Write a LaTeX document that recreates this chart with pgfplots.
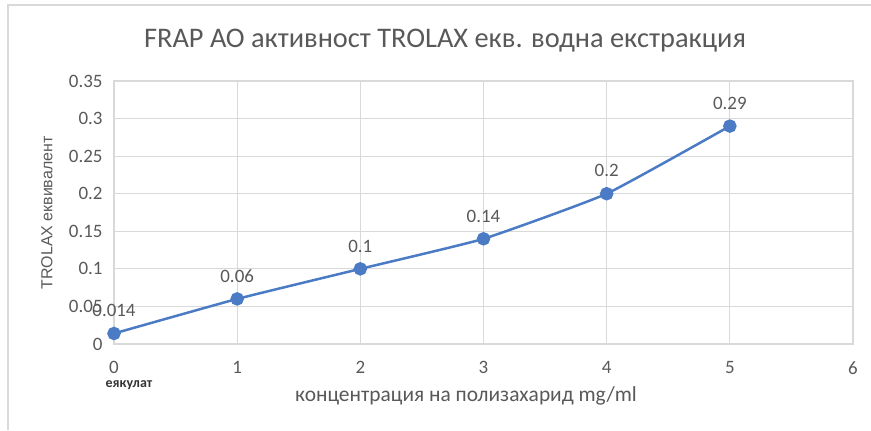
\documentclass[border=0pt]{standalone}
\usepackage{fontspec}
\setmainfont{Carlito}
\newfontfamily\arialfont{Liberation Sans}
\usepackage{pgfplots}
\pgfplotsset{compat=1.18}
\definecolor{txtgray}{HTML}{595959}
\definecolor{gridgray}{HTML}{D9D9D9}
\definecolor{frame}{HTML}{D9D9D9}
\definecolor{series}{HTML}{4A7BC4}

\pgfplotstableread{
x y lbl
0 0.014 0.014
1 0.06 0.06
2 0.1 0.1
3 0.14 0.14
4 0.2 0.2
5 0.29 0.29
}\frapdata

\begin{document}
\begin{tikzpicture}[x=1bp,y=1bp]
\path[use as bounding box] (0,0) rectangle (871,430);
\draw[frame, line width=1.5bp] (8,0) -- (8,425) -- (871,425);
\begin{axis}[
  at={(114bp,86bp)}, anchor=south west,
  scale only axis, width=739bp, height=263bp,
  xmin=0, xmax=6, ymin=0, ymax=0.35,
  xtick={0,1,2,3,4,5,6},
  ytick={0,0.05,0.1,0.15,0.2,0.25,0.3,0.35},
  yticklabels={0,0.05,0.1,0.15,0.2,0.25,0.3,0.35},
  grid=major,
  grid style={gridgray, line width=1.2bp},
  axis line style={gridgray, line width=1.2bp},
  major tick length=0pt,
  tick label style={font=\fontsize{19}{19}\selectfont, text=txtgray},
  /pgf/number format/assume math mode=true,
  xticklabel style={yshift=-14bp},
  yticklabel style={xshift=-8bp},
  clip=false,
]
\addplot[series, line width=2.5bp, smooth, tension=0.25,
  mark=*, mark size=5.5bp, mark options={fill=series, draw=series},
  point meta=explicit symbolic,
  nodes near coords,
  every node near coord/.append style={font=\fontsize{19}{19}\selectfont, text=txtgray, yshift=12bp}]
  table[x=x, y=y, meta=lbl] {\frapdata};
\end{axis}
\node[text=txtgray, font=\fontsize{28.5}{28.5}\selectfont] at (445,389) {FRAP АО активност TROLAX екв. водна екстракция};
\node[text=txtgray, font=\fontsize{21.5}{21.5}\selectfont] at (466,34) {концентрация на полизахарид mg/ml};
\node[text=txtgray, font=\arialfont\fontsize{16}{16}\selectfont, rotate=90] at (47,217) {TROLAX еквивалент};
\node[text=black!80, font=\bfseries\fontsize{14}{14}\selectfont] at (129,45) {еякулат};
\end{tikzpicture}
\end{document}
